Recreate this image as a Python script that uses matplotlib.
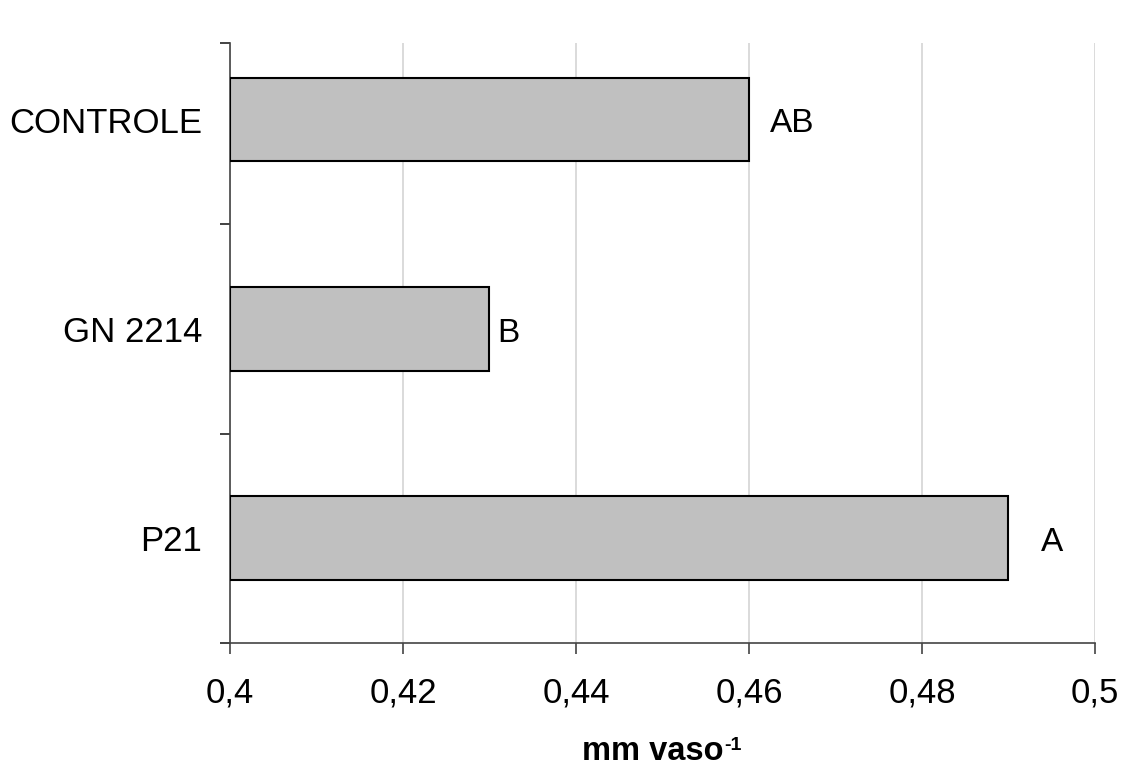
import matplotlib.pyplot as plt
from matplotlib.ticker import FixedLocator, FuncFormatter

categories = ["P21", "GN 2214", "CONTROLE"]
values = [0.49, 0.43, 0.46]
letters = ["A", "B", "AB"]
letter_offsets = [32, 8, 21]  # px gap after bar end

plt.rcParams["font.family"] = ["Liberation Sans", "DejaVu Sans"]

fig = plt.figure(figsize=(11.23, 7.69), dpi=100)
ax = fig.add_axes([230 / 1123, 126 / 769, 865 / 1123, 600 / 769])

pos = list(range(len(categories)))
ax.barh(pos, [v - 0.4 for v in values], left=0.4, height=0.4,
        color="#c0c0c0", edgecolor="black", linewidth=1.5, zorder=3)

for p, v, lab, off in zip(pos, values, letters, letter_offsets):
    ax.annotate(lab, xy=(v, p), xytext=(off * 0.72, -3), textcoords="offset points",
                ha="left", va="center", fontsize=24)

ax.set_xlim(0.4, 0.5)
ax.set_ylim(-0.5, 2.366)
ax.set_xticks([0.4, 0.42, 0.44, 0.46, 0.48, 0.5])
ax.xaxis.set_major_formatter(FuncFormatter(lambda x, _: f"{x:g}".replace(".", ",")))
ax.set_yticks(pos)
ax.set_yticklabels(categories)
ax.yaxis.set_minor_locator(FixedLocator([-0.5, 0.5, 1.5, 2.366]))
ax.tick_params(axis="y", which="major", length=0, pad=20, labelsize=25)
ax.tick_params(axis="y", which="minor", length=7, width=1.2, color="#222222")
ax.tick_params(axis="x", length=8, width=1.2, color="#444444", pad=16, labelsize=25)

ax.grid(axis="x", color="#d4d4d4", linewidth=1.2, zorder=0)
for s in ["top", "right"]:
    ax.spines[s].set_visible(False)
for s in ["left", "bottom"]:
    ax.spines[s].set_color("#444444")
    ax.spines[s].set_linewidth(1.2)

# x label with small superscript "-1"
fig.text(723 / 1123, 1 - 760 / 769, "mm vaso", ha="right", va="baseline",
         fontsize=23.5, fontweight="bold")
fig.text(724 / 1123, 1 - 750 / 769, "-1", ha="left", va="baseline",
         fontsize=14, fontweight="bold")

fig.savefig("out.png", dpi=100)
